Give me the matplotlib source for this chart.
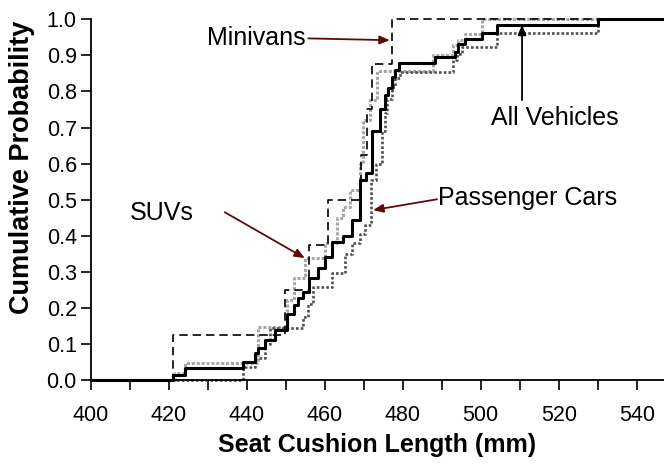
import numpy as np
import matplotlib.pyplot as plt

plt.rcParams['font.family'] = ['Liberation Sans', 'DejaVu Sans']

# step positions (mm) and cumulative probability after each step
all_x = [400, 421.2, 424.2, 439.1, 442.1, 443.0, 444.7, 447.3, 450.3, 452.0, 453.2, 454.5,
         456.1, 458.3, 460.1, 461.8, 464.8, 466.9, 469.1, 470.6, 472.1, 474.2, 475.5,
         476.3, 477.2, 478.0, 479.1, 488.3, 493.4, 494.3, 496.0, 500.3, 504.1, 530.2, 560]
all_p = [0, 0.014, 0.032, 0.051, 0.074, 0.088, 0.11, 0.139, 0.184, 0.208, 0.226, 0.245,
         0.282, 0.31, 0.342, 0.383, 0.40, 0.443, 0.554, 0.574, 0.69, 0.75, 0.79,
         0.81, 0.84, 0.86, 0.878, 0.896, 0.909, 0.932, 0.946, 0.963, 0.983, 1.0, 1.0]

mini_x = [400, 421.0, 449.8, 456.0, 460.9, 469.3, 470.8, 472.1, 477.2, 530.2]
mini_p = [0, 0.125, 0.25, 0.375, 0.5, 0.625, 0.75, 0.875, 1.0, 1.0]

pc_x = [400, 439.1, 442.1, 444.7, 446.0, 454.5, 455.8, 457.0, 461.8, 465.2, 467.0, 469.0,
        470.3, 471.8, 473.2, 474.6, 475.5, 475.9, 477.2, 478.1, 479.3, 493.0, 493.8,
        495.1, 504.1, 530.2]
pc_p = [0, 0.037, 0.06, 0.1, 0.143, 0.175, 0.212, 0.258, 0.296, 0.35, 0.38, 0.406,
        0.43, 0.554, 0.6, 0.69, 0.74, 0.78, 0.812, 0.836, 0.854, 0.886, 0.905,
        0.923, 0.963, 1.0]

suv_x = [400, 421.6, 424.2, 443.0, 450.3, 452.0, 455.0, 460.1, 463.2, 464.8, 466.5, 469.1,
         469.9, 471.6, 473.4, 487.8, 493.0, 494.3, 496.0, 500.3, 530.2]
suv_p = [0, 0.02, 0.046, 0.148, 0.222, 0.282, 0.338, 0.379, 0.45, 0.48, 0.526, 0.6,
         0.72, 0.776, 0.857, 0.9, 0.928, 0.942, 0.96, 1.0, 1.0]

# annotation labels: text centre, arrow tail, arrow head (data units)
labels = ['Minivans', 'All Vehicles', 'Passenger Cars', 'SUVs']
label_pos = [(442.4, 0.947), (519.1, 0.726), (511.9, 0.504), (418.3, 0.463)]
arrow_from = [(455.8, 0.947), (510.6, 0.776), (488.8, 0.501), (434.4, 0.465)]
arrow_to = [(476.7, 0.942), (510.6, 0.985), (472.4, 0.471), (454.9, 0.338)]
arrow_col = ['#5c0a0a', 'black', '#5c0a0a', '#5c0a0a']

fig = plt.figure(figsize=(6.64, 4.68), dpi=100)
ax = fig.add_axes([0.1366, 0.188, 0.8634, 0.7708])

ax.step(suv_x, suv_p, where='post', color='#a8a8a8', lw=2.2, ls=(0, (1.0, 0.6)), clip_on=False)
ax.step(pc_x, pc_p, where='post', color='#505050', lw=1.9, ls=(0, (1.0, 0.8)), clip_on=False)
ax.step(mini_x, mini_p, where='post', color='black', lw=1.2, ls=(0, (5, 3)), clip_on=False)
ax.step(all_x, all_p, where='post', color='black', lw=2.2, clip_on=False)

ax.set_xlim(400, 547)
ax.set_ylim(0, 1.0)
ax.set_xticks(np.arange(400, 550, 10))
ax.set_xticklabels([str(v) if v % 20 == 0 else '' for v in range(400, 550, 10)])
ax.set_yticks(np.arange(0, 1.01, 0.1))
ax.set_yticklabels(['%.1f' % v for v in np.arange(0, 1.01, 0.1)])
ax.tick_params(direction='out', length=7, width=1.2, labelsize=15.5, pad=3)
ax.tick_params(axis='x', pad=11)
for s in ['top', 'right']:
    ax.spines[s].set_visible(False)
for s in ['left', 'bottom']:
    ax.spines[s].set_linewidth(1.3)

ax.set_xlabel('Seat Cushion Length (mm)', fontsize=18, fontweight='bold', labelpad=5)
ax.set_ylabel('Cumulative Probability', fontsize=19.5, fontweight='bold')
ax.yaxis.set_label_coords(-0.098, 0.589)

for txt, pos, a0, a1, c in zip(labels, label_pos, arrow_from, arrow_to, arrow_col):
    ax.text(pos[0], pos[1], txt, fontsize=18, ha='center', va='center')
    ax.annotate('', xy=a1, xytext=a0,
                arrowprops=dict(arrowstyle='-|>,head_length=0.6,head_width=0.25',
                                color=c, lw=1.3, shrinkA=0, shrinkB=0))

fig.savefig('out.png', dpi=100)
